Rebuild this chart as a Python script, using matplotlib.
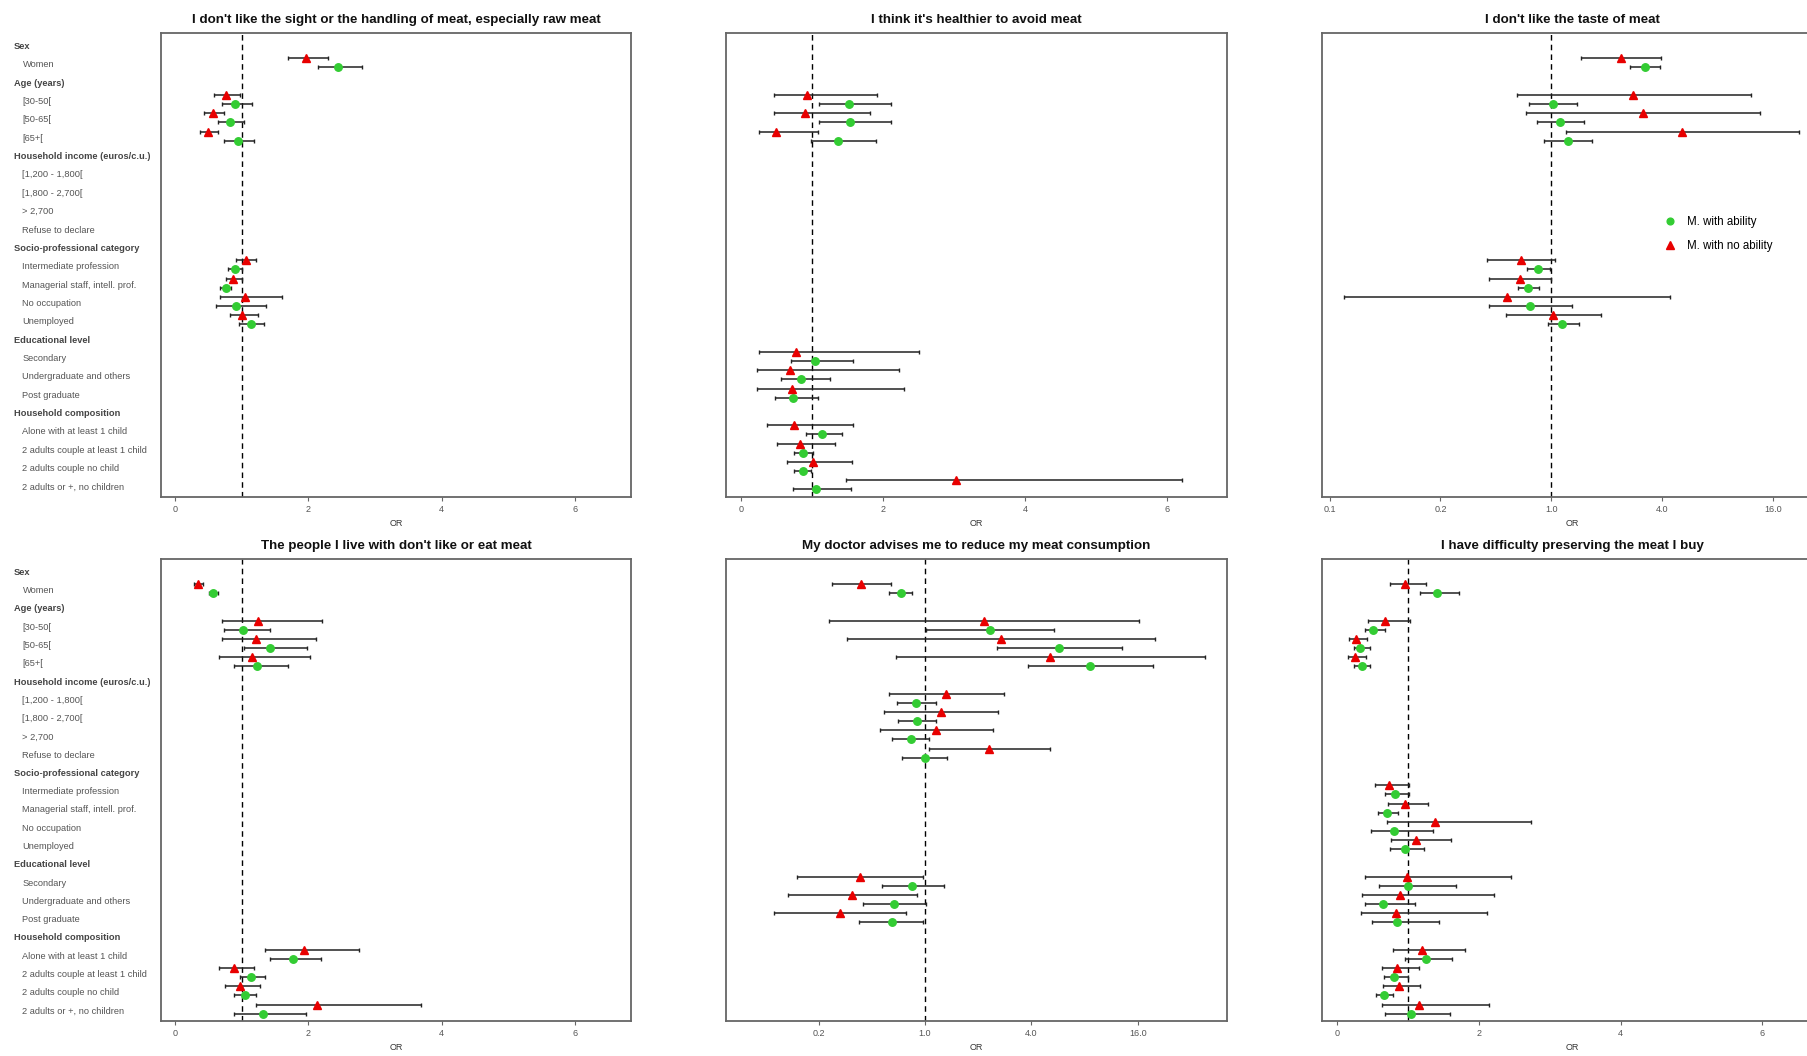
import numpy as np
import matplotlib
matplotlib.use("Agg")
import matplotlib.pyplot as plt
from matplotlib.transforms import blended_transform_factory

plt.rcParams['font.family'] = ['Liberation Sans', 'DejaVu Sans']

nan = np.nan

row_labels = ["Sex", "Women", "Age (years)", "[30-50[", "[50-65[", "[65+[",
              "Household income (euros/c.u.)", "[1,200 - 1,800[", "[1,800 - 2,700[", "> 2,700",
              "Refuse to declare", "Socio-professional category", "Intermediate profession",
              "Managerial staff, intell. prof.", "No occupation", "Unemployed",
              "Educational level", "Secondary", "Undergraduate and others", "Post graduate",
              "Household composition", "Alone with at least 1 child",
              "2 adults couple at least 1 child", "2 adults couple no child",
              "2 adults or +, no children"]
header_rows = [0, 2, 6, 11, 16, 20]

titles = ["I don't like the sight or the handling of meat, especially raw meat",
          "I think it's healthier to avoid meat",
          "I don't like the taste of meat",
          "The people I live with don't like or eat meat",
          "My doctor advises me to reduce my meat consumption",
          "I have difficulty preserving the meat I buy"]

legend_labels = ["M. with ability", "M. with no ability"]

lin_ticks = [0, 2, 4, 6]
lin_ticklabels = ["0", "2", "4", "6"]
log_ticks_a = [1/16, 1/4, 1, 4, 16]
log_ticklabels_a = ["0.1", "0.2", "1.0", "4.0", "16.0"]
log_ticks_b = [1/4, 1, 4, 16]
log_ticklabels_b = ["0.2", "1.0", "4.0", "16.0"]

# ---- Panel 1: sight / handling (rows 0..24) ----
p1_g_or = [nan, 2.44, nan, 0.90, 0.82, 0.94, nan, nan, nan, nan, nan, nan, 0.90, 0.76, 0.92, 1.14, nan, nan, nan, nan, nan, nan, nan, nan, nan]
p1_g_lo = [nan, 2.14, nan, 0.71, 0.65, 0.74, nan, nan, nan, nan, nan, nan, 0.79, 0.68, 0.62, 0.96, nan, nan, nan, nan, nan, nan, nan, nan, nan]
p1_g_hi = [nan, 2.81, nan, 1.15, 1.03, 1.19, nan, nan, nan, nan, nan, nan, 1.01, 0.84, 1.37, 1.34, nan, nan, nan, nan, nan, nan, nan, nan, nan]
p1_r_or = [nan, 1.96, nan, 0.76, 0.57, 0.49, nan, nan, nan, nan, nan, nan, 1.06, 0.87, 1.05, 1.00, nan, nan, nan, nan, nan, nan, nan, nan, nan]
p1_r_lo = [nan, 1.70, nan, 0.59, 0.44, 0.38, nan, nan, nan, nan, nan, nan, 0.92, 0.76, 0.68, 0.82, nan, nan, nan, nan, nan, nan, nan, nan, nan]
p1_r_hi = [nan, 2.30, nan, 0.97, 0.74, 0.65, nan, nan, nan, nan, nan, nan, 1.22, 1.00, 1.61, 1.24, nan, nan, nan, nan, nan, nan, nan, nan, nan]

# ---- Panel 2: healthier ----
p2_g_or = [nan, nan, nan, 1.52, 1.54, 1.37, nan, nan, nan, nan, nan, nan, nan, nan, nan, nan, nan, 1.04, 0.85, 0.73, nan, 1.14, 0.88, 0.87, 1.06]
p2_g_lo = [nan, nan, nan, 1.10, 1.10, 0.99, nan, nan, nan, nan, nan, nan, nan, nan, nan, nan, nan, 0.71, 0.57, 0.48, nan, 0.91, 0.75, 0.75, 0.73]
p2_g_hi = [nan, nan, nan, 2.11, 2.11, 1.90, nan, nan, nan, nan, nan, nan, nan, nan, nan, nan, nan, 1.58, 1.26, 1.09, nan, 1.42, 1.02, 0.99, 1.55]
p2_r_or = [nan, nan, nan, 0.93, 0.90, 0.50, nan, nan, nan, nan, nan, nan, nan, nan, nan, nan, nan, 0.78, 0.69, 0.72, nan, 0.75, 0.83, 1.01, 3.03]
p2_r_lo = [nan, nan, nan, 0.46, 0.46, 0.25, nan, nan, nan, nan, nan, nan, nan, nan, nan, nan, nan, 0.25, 0.22, 0.23, nan, 0.36, 0.51, 0.65, 1.48]
p2_r_hi = [nan, nan, nan, 1.92, 1.81, 1.08, nan, nan, nan, nan, nan, nan, nan, nan, nan, nan, nan, 2.51, 2.22, 2.29, nan, 1.58, 1.33, 1.57, 6.21]

# ---- Panel 3: taste (log scale) ----
p3_g_or = [nan, 3.23, nan, 1.02, 1.11, 1.23, nan, nan, nan, nan, nan, nan, 0.846, 0.75, 0.765, 1.15, nan, nan, nan, nan, nan, nan, nan, nan, nan]
p3_g_lo = [nan, 2.67, nan, 0.76, 0.84, 0.91, nan, nan, nan, nan, nan, nan, 0.74, 0.66, 0.456, 0.955, nan, nan, nan, nan, nan, nan, nan, nan, nan]
p3_g_hi = [nan, 3.90, nan, 1.38, 1.51, 1.66, nan, nan, nan, nan, nan, nan, 0.98, 0.86, 1.30, 1.41, nan, nan, nan, nan, nan, nan, nan, nan, nan]
p3_r_or = [nan, 2.39, nan, 2.80, 3.15, 5.14, nan, nan, nan, nan, nan, nan, 0.684, 0.675, 0.576, 1.02, nan, nan, nan, nan, nan, nan, nan, nan, nan]
p3_r_lo = [nan, 1.46, nan, 0.65, 0.73, 1.21, nan, nan, nan, nan, nan, nan, 0.45, 0.46, 0.075, 0.567, nan, nan, nan, nan, nan, nan, nan, nan, nan]
p3_r_hi = [nan, 3.95, nan, 12.2, 13.6, 22.2, nan, nan, nan, nan, nan, nan, 1.05, 1.00, 4.44, 1.86, nan, nan, nan, nan, nan, nan, nan, nan, nan]

# ---- Panel 4: people I live with ----
p4_g_or = [nan, 0.57, nan, 1.02, 1.43, 1.23, nan, nan, nan, nan, nan, nan, nan, nan, nan, nan, nan, nan, nan, nan, nan, 1.77, 1.14, 1.05, 1.32]
p4_g_lo = [nan, 0.51, nan, 0.74, 1.03, 0.89, nan, nan, nan, nan, nan, nan, nan, nan, nan, nan, nan, nan, nan, nan, nan, 1.43, 0.97, 0.89, 0.89]
p4_g_hi = [nan, 0.64, nan, 1.43, 1.98, 1.70, nan, nan, nan, nan, nan, nan, nan, nan, nan, nan, nan, nan, nan, nan, nan, 2.19, 1.35, 1.22, 1.97]
p4_r_or = [nan, 0.35, nan, 1.25, 1.22, 1.16, nan, nan, nan, nan, nan, nan, nan, nan, nan, nan, nan, nan, nan, nan, nan, 1.93, 0.89, 0.98, 2.13]
p4_r_lo = [nan, 0.29, nan, 0.71, 0.71, 0.66, nan, nan, nan, nan, nan, nan, nan, nan, nan, nan, nan, nan, nan, nan, nan, 1.35, 0.66, 0.75, 1.22]
p4_r_hi = [nan, 0.42, nan, 2.20, 2.12, 2.03, nan, nan, nan, nan, nan, nan, nan, nan, nan, nan, nan, nan, nan, nan, nan, 2.76, 1.19, 1.28, 3.69]

# ---- Panel 5: doctor (log scale) ----
p5_g_or = [nan, 0.728, nan, 2.33, 5.77, 8.63, nan, 0.89, 0.90, 0.83, 1.00, nan, nan, nan, nan, nan, nan, 0.849, 0.672, 0.647, nan, nan, nan, nan, nan]
p5_g_lo = [nan, 0.627, nan, 1.01, 2.55, 3.82, nan, 0.694, 0.70, 0.653, 0.745, nan, nan, nan, nan, nan, nan, 0.568, 0.448, 0.425, nan, nan, nan, nan, nan]
p5_g_hi = [nan, 0.849, nan, 5.35, 13.1, 19.5, nan, 1.15, 1.15, 1.05, 1.33, nan, nan, nan, nan, nan, nan, 1.28, 1.01, 0.972, nan, nan, nan, nan, nan]
p5_r_or = [nan, 0.435, nan, 2.15, 2.68, 5.11, nan, 1.32, 1.24, 1.16, 2.31, nan, nan, nan, nan, nan, nan, 0.427, 0.389, 0.33, nan, nan, nan, nan, nan]
p5_r_lo = [nan, 0.298, nan, 0.286, 0.363, 0.688, nan, 0.627, 0.584, 0.555, 1.05, nan, nan, nan, nan, nan, nan, 0.188, 0.168, 0.139, nan, nan, nan, nan, nan]
p5_r_hi = [nan, 0.64, nan, 16.3, 20.1, 38.3, nan, 2.80, 2.60, 2.44, 5.09, nan, nan, nan, nan, nan, nan, 0.972, 0.898, 0.777, nan, nan, nan, nan, nan]

# ---- Panel 6: preserving ----
p6_g_or = [nan, 1.41, nan, 0.51, 0.33, 0.35, nan, nan, nan, nan, nan, nan, 0.82, 0.71, 0.81, 0.96, nan, 1.00, 0.65, 0.85, nan, 1.25, 0.81, 0.67, 1.04]
p6_g_lo = [nan, 1.17, nan, 0.39, 0.24, 0.24, nan, nan, nan, nan, nan, nan, 0.68, 0.58, 0.48, 0.75, nan, 0.59, 0.39, 0.49, nan, 0.96, 0.66, 0.55, 0.68]
p6_g_hi = [nan, 1.72, nan, 0.68, 0.46, 0.46, nan, nan, nan, nan, nan, nan, 1.01, 0.86, 1.36, 1.23, nan, 1.68, 1.10, 1.44, nan, 1.62, 1.00, 0.79, 1.59]
p6_r_or = [nan, 0.96, nan, 0.68, 0.27, 0.25, nan, nan, nan, nan, nan, nan, 0.74, 0.96, 1.38, 1.11, nan, 0.99, 0.89, 0.84, nan, 1.20, 0.85, 0.88, 1.16]
p6_r_lo = [nan, 0.75, nan, 0.44, 0.17, 0.16, nan, nan, nan, nan, nan, nan, 0.54, 0.72, 0.71, 0.76, nan, 0.39, 0.36, 0.34, nan, 0.79, 0.63, 0.65, 0.63]
p6_r_hi = [nan, 1.25, nan, 1.03, 0.42, 0.41, nan, nan, nan, nan, nan, nan, 1.01, 1.29, 2.73, 1.61, nan, 2.46, 2.21, 2.11, nan, 1.80, 1.16, 1.17, 2.15]

panels = [
    (p1_g_or, p1_g_lo, p1_g_hi, p1_r_or, p1_r_lo, p1_r_hi),
    (p2_g_or, p2_g_lo, p2_g_hi, p2_r_or, p2_r_lo, p2_r_hi),
    (p3_g_or, p3_g_lo, p3_g_hi, p3_r_or, p3_r_lo, p3_r_hi),
    (p4_g_or, p4_g_lo, p4_g_hi, p4_r_or, p4_r_lo, p4_r_hi),
    (p5_g_or, p5_g_lo, p5_g_hi, p5_r_or, p5_r_lo, p5_r_hi),
    (p6_g_or, p6_g_lo, p6_g_hi, p6_r_or, p6_r_lo, p6_r_hi),
]

# ---- layout (pixels) ----
W, H = 1807, 1056
fig = plt.figure(figsize=(W / 100, H / 100), dpi=100)
fig.patch.set_facecolor('white')

col_x = [(161, 631), (726, 1227), (1322, 1822)]
row_y = [(33.3, 497), (559.3, 1021)]
scales = ['lin', 'lin', 'log_a', 'lin', 'log_b', 'lin']

GREEN = '#33cc33'
RED = '#e80000'
GRAY = '#555555'
n = len(row_labels)
ypos = np.arange(n)

for k in range(6):
    r, c = divmod(k, 3)
    x0, x1 = col_x[c]
    y0, y1 = row_y[r]
    ax = fig.add_axes([x0 / W, 1 - y1 / H, (x1 - x0) / W, (y1 - y0) / H])
    g_or, g_lo, g_hi, r_or, r_lo, r_hi = [np.array(a, dtype=float) for a in panels[k]]

    sc = scales[k]
    if sc == 'lin':
        ax.set_xlim(-0.21, 6.84)
        ax.set_xticks(lin_ticks)
        ax.set_xticklabels(lin_ticklabels)
    elif sc == 'log_a':
        ax.set_xscale('log', base=2)
        ax.set_xlim(2 ** -4.14, 2 ** 4.89)
        ax.set_xticks(log_ticks_a)
        ax.set_xticklabels(log_ticklabels_a)
    else:
        ax.set_xscale('log', base=2)
        ax.set_xlim(2 ** -3.74, 2 ** 5.68)
        ax.set_xticks(log_ticks_b)
        ax.set_xticklabels(log_ticklabels_b)
    ax.minorticks_off()
    ax.set_ylim(24.55, -0.72)
    ax.set_yticks([])

    ax.axvline(1.0, color='black', lw=1.0, ls=(0, (4, 3)), zorder=1)

    yr = ypos - 0.35
    yg = ypos + 0.14
    mr = ~np.isnan(r_or)
    mg = ~np.isnan(g_or)
    ax.errorbar(r_or[mr], yr[mr], xerr=[r_or[mr] - r_lo[mr], r_hi[mr] - r_or[mr]],
                fmt='none', ecolor='#222222', elinewidth=1.1, capsize=1.6, capthick=1.0, zorder=2)
    ax.errorbar(g_or[mg], yg[mg], xerr=[g_or[mg] - g_lo[mg], g_hi[mg] - g_or[mg]],
                fmt='none', ecolor='#222222', elinewidth=1.1, capsize=1.6, capthick=1.0, zorder=2)
    ax.plot(g_or[mg], yg[mg], 'o', color=GREEN, ms=5.4, mec=GREEN, zorder=3,
            label=legend_labels[0])
    ax.plot(r_or[mr], yr[mr], '^', color=RED, ms=6.0, mec=RED, zorder=3,
            label=legend_labels[1])

    for sp in ax.spines.values():
        sp.set_color('#666666')
        sp.set_linewidth(1.3)
    ax.tick_params(axis='x', direction='out', length=3, width=0.8, color='#666666',
                   labelsize=6.5, labelcolor=GRAY, pad=2.5)

    hpx = y1 - y0
    ax.text(0.5, 1 + 13.5 / hpx, titles[k], transform=ax.transAxes, ha='center', va='center',
            fontsize=9.6, fontweight='bold', color='#111111')
    ax.text(0.5, -26.5 / hpx, "OR", transform=ax.transAxes, ha='center', va='center',
            fontsize=6.5, color='#333333')

    if c == 0:
        tr = blended_transform_factory(fig.transFigure, ax.transData)
        for i, lab in enumerate(row_labels):
            if i in header_rows:
                fig.text(14 / W, i, lab, transform=tr, ha='left', va='center',
                         fontsize=6.7, fontweight='bold', color='#444444')
            else:
                fig.text(22.5 / W, i, lab, transform=tr, ha='left', va='center',
                         fontsize=6.7, color='#555555')

    if k == 2:
        ax.legend(loc='upper left', bbox_to_anchor=((1660 - x0) / (x1 - x0), 1 - (211 - y0) / hpx),
                  frameon=False, fontsize=8.3, handletextpad=0.9, labelspacing=1.05,
                  handlelength=1.0, borderaxespad=0, markerscale=0.9)

fig.savefig("out.png", dpi=100, facecolor='white')
